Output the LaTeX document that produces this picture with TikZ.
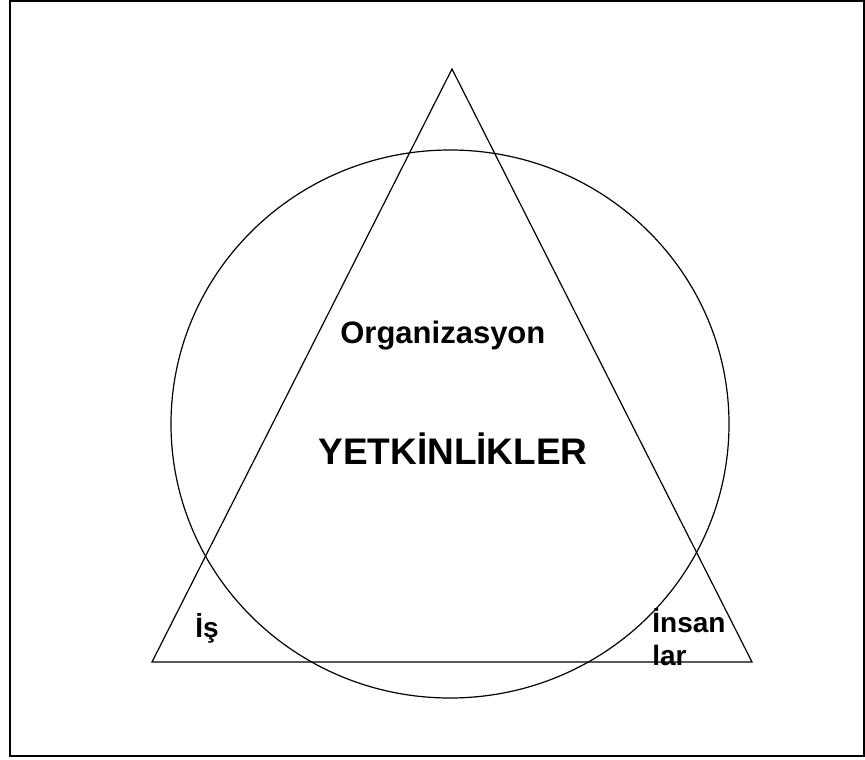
\documentclass[tikz,border=0pt]{standalone}
\usepackage{fontspec}
\setmainfont{Liberation Sans}
\tikzset{every picture/.style={line width=0.75pt}}
\begin{document}
\begin{tikzpicture}[x=1pt,y=1pt,yscale=-1,xscale=1]
\useasboundingbox (0,0) rectangle (865,760);

%Shape: Rectangle [id:frame]
\draw [line width=1.5pt]  (10,1) -- (864,1) -- (864,756) -- (10,756) -- cycle ;
%Shape: Triangle [id:tri]
\draw [line width=1.2pt]  (452,69) -- (752,662) -- (152,662) -- cycle ;
%Shape: Circle [id:circ]
\draw [line width=1.2pt]  (450,424) ellipse [x radius=279, y radius=274] ;

% Text Node
\draw (340,343) node (org) [anchor=base west][inner sep=0pt]  {\fontsize{31}{36}\bfseries Organizasyon};
% Text Node
\draw (318,464) node (yet) [anchor=base west][inner sep=0pt]  {\fontsize{37}{42}\bfseries YETKİNLİKLER};
% Text Node
\draw (195,637) node (is) [anchor=base west][inner sep=0pt]  {\fontsize{28}{33}\bfseries İş};
% Text Node
\draw (652,665) node (ins) [anchor=base west][inner sep=0pt][align=left][font=\fontsize{28}{33}\selectfont\bfseries]  {İnsan\\lar};

\end{tikzpicture}
\end{document}
